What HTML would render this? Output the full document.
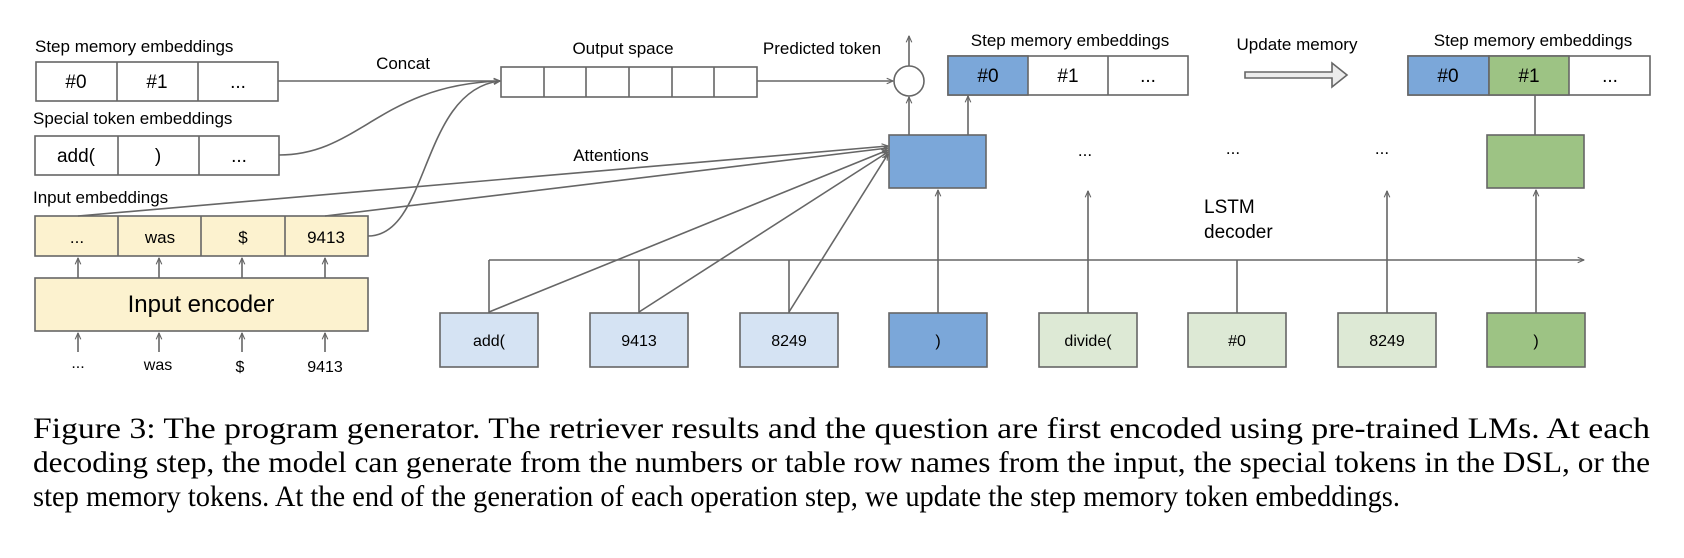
<!DOCTYPE html>
<html><head><meta charset="utf-8"><style>
html,body{margin:0;padding:0;background:#fff;}
svg{display:block;}
.s{font-family:"Liberation Sans",Arial,sans-serif;fill:#000;}
.c{font-family:"Liberation Serif","Times New Roman",serif;fill:#000;font-size:30px;}
.ln{stroke:#666;stroke-width:1.6;fill:none;}
.bx{stroke:#666;stroke-width:1.6;}
</style></head><body>
<svg width="1684" height="558" viewBox="0 0 1684 558">
<defs>
<marker id="ah" viewBox="0 0 10 10" refX="9" refY="5" markerWidth="7" markerHeight="7" orient="auto-start-reverse" markerUnits="userSpaceOnUse">
<path d="M0,1 L9,5 L0,9" fill="none" stroke="#666" stroke-width="1.6"/>
</marker>
</defs>

<g>
<text class="s" x="35" y="52" font-size="17">Step memory embeddings</text>
<rect class="bx" x="36" y="62" width="242" height="39" fill="#fff"/>
<line class="ln" x1="117" y1="62" x2="117" y2="101"/>
<line class="ln" x1="198" y1="62" x2="198" y2="101"/>
<text class="s" x="76" y="88" font-size="19" text-anchor="middle">#0</text>
<text class="s" x="157" y="88" font-size="19" text-anchor="middle">#1</text>
<text class="s" x="238" y="88" font-size="19" text-anchor="middle">...</text>
</g>

<g>
<text class="s" x="33" y="124" font-size="17">Special token embeddings</text>
<rect class="bx" x="35" y="136" width="244" height="39" fill="#fff"/>
<line class="ln" x1="118" y1="136" x2="118" y2="175"/>
<line class="ln" x1="199" y1="136" x2="199" y2="175"/>
<text class="s" x="76" y="162" font-size="19" text-anchor="middle">add(</text>
<text class="s" x="158" y="162" font-size="19" text-anchor="middle">)</text>
<text class="s" x="239" y="162" font-size="19" text-anchor="middle">...</text>
</g>

<g>
<text class="s" x="33" y="203" font-size="17">Input embeddings</text>
<rect class="bx" x="35" y="216" width="333" height="40" fill="#fcf2cf"/>
<line class="ln" x1="118" y1="216" x2="118" y2="256"/>
<line class="ln" x1="201" y1="216" x2="201" y2="256"/>
<line class="ln" x1="285" y1="216" x2="285" y2="256"/>
<text class="s" x="77" y="243" font-size="17" text-anchor="middle">...</text>
<text class="s" x="160" y="243" font-size="17" text-anchor="middle">was</text>
<text class="s" x="243" y="243" font-size="17" text-anchor="middle">$</text>
<text class="s" x="326" y="243" font-size="17" text-anchor="middle">9413</text>
</g>

<g>
<rect class="bx" x="35" y="278" width="333" height="53" fill="#fcf2cf"/>
<text class="s" x="201" y="312" font-size="24" text-anchor="middle">Input encoder</text>
<line class="ln" x1="78" y1="278" x2="78" y2="258" marker-end="url(#ah)"/>
<line class="ln" x1="159" y1="278" x2="159" y2="258" marker-end="url(#ah)"/>
<line class="ln" x1="242" y1="278" x2="242" y2="258" marker-end="url(#ah)"/>
<line class="ln" x1="325" y1="278" x2="325" y2="258" marker-end="url(#ah)"/>
<line class="ln" x1="78" y1="352" x2="78" y2="333" marker-end="url(#ah)"/>
<line class="ln" x1="159" y1="352" x2="159" y2="333" marker-end="url(#ah)"/>
<line class="ln" x1="242" y1="352" x2="242" y2="333" marker-end="url(#ah)"/>
<line class="ln" x1="325" y1="352" x2="325" y2="333" marker-end="url(#ah)"/>
<text class="s" x="78" y="368" font-size="16" text-anchor="middle">...</text>
<text class="s" x="158" y="370" font-size="16" text-anchor="middle">was</text>
<text class="s" x="240" y="372" font-size="16" text-anchor="middle">$</text>
<text class="s" x="325" y="372" font-size="16" text-anchor="middle">9413</text>
</g>

<g>
<text class="s" x="623" y="54" font-size="17" text-anchor="middle">Output space</text>
<text class="s" x="403" y="69" font-size="17" text-anchor="middle">Concat</text>
<rect class="bx" x="501" y="67" width="256" height="30" fill="#fff"/>
<line class="ln" x1="544" y1="67" x2="544" y2="97"/>
<line class="ln" x1="586" y1="67" x2="586" y2="97"/>
<line class="ln" x1="629" y1="67" x2="629" y2="97"/>
<line class="ln" x1="672" y1="67" x2="672" y2="97"/>
<line class="ln" x1="714" y1="67" x2="714" y2="97"/>
<line class="ln" x1="278" y1="81" x2="500" y2="81" marker-end="url(#ah)"/>
<path class="ln" d="M279,155 C360,155 380,85 500,81" marker-end="url(#ah)"/>
<path class="ln" d="M368,236 C430,236 420,90 500,81" marker-end="url(#ah)"/>
</g>

<g>
<text class="s" x="822" y="54" font-size="17" text-anchor="middle">Predicted token</text>
<line class="ln" x1="757" y1="81" x2="893" y2="81" marker-end="url(#ah)"/>
<circle cx="909" cy="81" r="15" fill="#fff" stroke="#666" stroke-width="1.6"/>
<line class="ln" x1="909" y1="66" x2="909" y2="36" marker-end="url(#ah)"/>
<line class="ln" x1="909" y1="135" x2="909" y2="97" marker-end="url(#ah)"/>
<line class="ln" x1="968" y1="135" x2="968" y2="96" marker-end="url(#ah)"/>
</g>

<g>
<text class="s" x="1070" y="46" font-size="17" text-anchor="middle">Step memory embeddings</text>
<rect class="bx" x="948" y="56" width="240" height="39" fill="#fff"/>
<rect class="bx" x="948" y="56" width="80" height="39" fill="#7ba7d9"/>
<line class="ln" x1="1108" y1="56" x2="1108" y2="95"/>
<text class="s" x="988" y="82" font-size="19" text-anchor="middle">#0</text>
<text class="s" x="1068" y="82" font-size="19" text-anchor="middle">#1</text>
<text class="s" x="1148" y="82" font-size="19" text-anchor="middle">...</text>
</g>

<g>
<text class="s" x="1297" y="50" font-size="17" text-anchor="middle">Update memory</text>
<path d="M1245,72 L1332,72 L1332,63 L1347,75 L1332,87 L1332,78 L1245,78 Z" fill="#ececec" stroke="#666" stroke-width="1.6"/>
</g>

<g>
<text class="s" x="1533" y="46" font-size="17" text-anchor="middle">Step memory embeddings</text>
<rect class="bx" x="1408" y="56" width="242" height="39" fill="#fff"/>
<rect class="bx" x="1408" y="56" width="81" height="39" fill="#7ba7d9"/>
<rect class="bx" x="1489" y="56" width="80" height="39" fill="#9dc384"/>
<text class="s" x="1448" y="82" font-size="19" text-anchor="middle">#0</text>
<text class="s" x="1529" y="82" font-size="19" text-anchor="middle">#1</text>
<text class="s" x="1610" y="82" font-size="19" text-anchor="middle">...</text>
<line class="ln" x1="1535" y1="135" x2="1535" y2="95"/>
</g>

<g>
<text class="s" x="611" y="161" font-size="17" text-anchor="middle">Attentions</text>
<line class="ln" x1="78" y1="216" x2="888" y2="146" marker-end="url(#ah)"/>
<line class="ln" x1="325" y1="216" x2="888" y2="148" marker-end="url(#ah)"/>
<line class="ln" x1="489" y1="312" x2="888" y2="150" marker-end="url(#ah)"/>
<line class="ln" x1="639" y1="312" x2="888" y2="152" marker-end="url(#ah)"/>
<line class="ln" x1="789" y1="312" x2="888" y2="154" marker-end="url(#ah)"/>
</g>

<g>
<rect class="bx" x="889" y="135" width="97" height="53" fill="#7ba7d9"/>
<rect class="bx" x="1487" y="135" width="97" height="53" fill="#9dc384"/>
<text class="s" x="1085" y="156" font-size="17" text-anchor="middle">...</text>
<text class="s" x="1233" y="154" font-size="17" text-anchor="middle">...</text>
<text class="s" x="1382" y="154" font-size="17" text-anchor="middle">...</text>
<text class="s" x="1204" y="213" font-size="19">LSTM</text>
<text class="s" x="1204" y="238" font-size="19">decoder</text>
<line class="ln" x1="489" y1="260" x2="1584" y2="260" marker-end="url(#ah)"/>
<line class="ln" x1="489" y1="313" x2="489" y2="260"/>
<line class="ln" x1="639" y1="313" x2="639" y2="260"/>
<line class="ln" x1="789" y1="313" x2="789" y2="260"/>
<line class="ln" x1="938" y1="313" x2="938" y2="190" marker-end="url(#ah)"/>
<line class="ln" x1="1088" y1="313" x2="1088" y2="191" marker-end="url(#ah)"/>
<line class="ln" x1="1237" y1="313" x2="1237" y2="260"/>
<line class="ln" x1="1387" y1="313" x2="1387" y2="191" marker-end="url(#ah)"/>
<line class="ln" x1="1536" y1="313" x2="1536" y2="190" marker-end="url(#ah)"/>
</g>

<g>
<rect class="bx" x="440" y="313" width="98" height="54" fill="#d5e3f3"/>
<rect class="bx" x="590" y="313" width="98" height="54" fill="#d5e3f3"/>
<rect class="bx" x="740" y="313" width="98" height="54" fill="#d5e3f3"/>
<rect class="bx" x="889" y="313" width="98" height="54" fill="#7ba7d9"/>
<rect class="bx" x="1039" y="313" width="98" height="54" fill="#dde9d5"/>
<rect class="bx" x="1188" y="313" width="98" height="54" fill="#dde9d5"/>
<rect class="bx" x="1338" y="313" width="98" height="54" fill="#dde9d5"/>
<rect class="bx" x="1487" y="313" width="98" height="54" fill="#9dc384"/>
<text class="s" x="489" y="346" font-size="16" text-anchor="middle">add(</text>
<text class="s" x="639" y="346" font-size="16" text-anchor="middle">9413</text>
<text class="s" x="789" y="346" font-size="16" text-anchor="middle">8249</text>
<text class="s" x="938" y="346" font-size="16" text-anchor="middle">)</text>
<text class="s" x="1088" y="346" font-size="16" text-anchor="middle">divide(</text>
<text class="s" x="1237" y="346" font-size="16" text-anchor="middle">#0</text>
<text class="s" x="1387" y="346" font-size="16" text-anchor="middle">8249</text>
<text class="s" x="1536" y="346" font-size="16" text-anchor="middle">)</text>
</g>

<g>
<text class="c" x="33" y="438" textLength="1617" lengthAdjust="spacingAndGlyphs">Figure 3:  The program generator.  The retriever results and the question are first encoded using pre-trained LMs.  At each</text>
<text class="c" x="33" y="472" textLength="1617" lengthAdjust="spacingAndGlyphs">decoding step, the model can generate from the numbers or table row names from the input, the special tokens in the DSL, or the</text>
<text class="c" x="33" y="506" textLength="1367" lengthAdjust="spacingAndGlyphs">step memory tokens. At the end of the generation of each operation step, we update the step memory token embeddings.</text>
</g>
</svg>
</body></html>
